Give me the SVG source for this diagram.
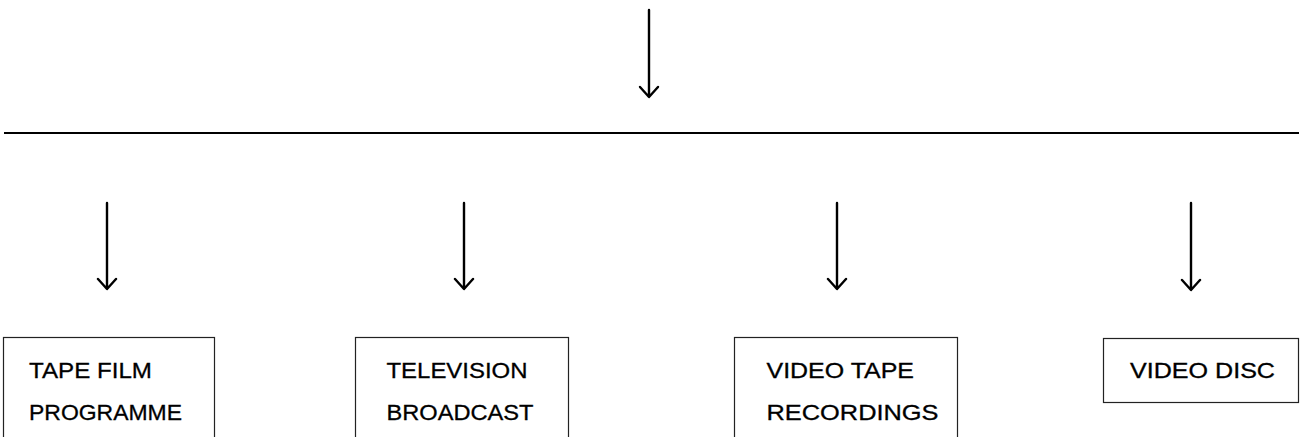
<svg xmlns="http://www.w3.org/2000/svg" width="1306" height="437" viewBox="0 0 1306 437">
<style>
.box{fill:#fff;stroke:#222;stroke-width:1.2}
.lbl{font-family:"Liberation Sans",Arial,sans-serif;font-size:22px;fill:#000;stroke:#000;stroke-width:0.3}
.conn{fill:none;stroke:#000;stroke-width:2.4;stroke-linecap:round;stroke-linejoin:round}
.rule{stroke:#000;stroke-width:1.8}
</style>
<rect width="1306" height="437" fill="#fff"/>
<g id="connectors">
<line class="rule" x1="4" y1="133" x2="1299" y2="133"/>
<path class="conn" d="M649 10 V96 M640 87 L649 97 L658 87"/>
<path class="conn" d="M107 203 V288 M98 279 L107 289 L116 279"/>
<path class="conn" d="M464 203 V288 M455 279 L464 289 L473 279"/>
<path class="conn" d="M837 203 V288 M828 279 L837 289 L846 279"/>
<path class="conn" d="M1191 203 V289 M1182 280 L1191 290 L1200 280"/>
</g>
<g id="node-tape-film">
<rect class="box" x="3.5" y="337.5" width="211" height="110"/>
<text class="lbl" x="29" y="378" textLength="123" lengthAdjust="spacingAndGlyphs">TAPE FILM</text>
<text class="lbl" x="29" y="420" textLength="153" lengthAdjust="spacingAndGlyphs">PROGRAMME</text>
</g>
<g id="node-television">
<rect class="box" x="355.5" y="337.5" width="213" height="110"/>
<text class="lbl" x="386.5" y="378" textLength="141" lengthAdjust="spacingAndGlyphs">TELEVISION</text>
<text class="lbl" x="386.5" y="420" textLength="147" lengthAdjust="spacingAndGlyphs">BROADCAST</text>
</g>
<g id="node-video-tape">
<rect class="box" x="734.5" y="337.5" width="223" height="110"/>
<text class="lbl" x="766.5" y="378" textLength="147.5" lengthAdjust="spacingAndGlyphs">VIDEO TAPE</text>
<text class="lbl" x="766.5" y="420" textLength="172" lengthAdjust="spacingAndGlyphs">RECORDINGS</text>
</g>
<g id="node-video-disc">
<rect class="box" x="1103.5" y="338.5" width="195" height="64"/>
<text class="lbl" x="1130" y="378" textLength="145" lengthAdjust="spacingAndGlyphs">VIDEO DISC</text>
</g>
</svg>
